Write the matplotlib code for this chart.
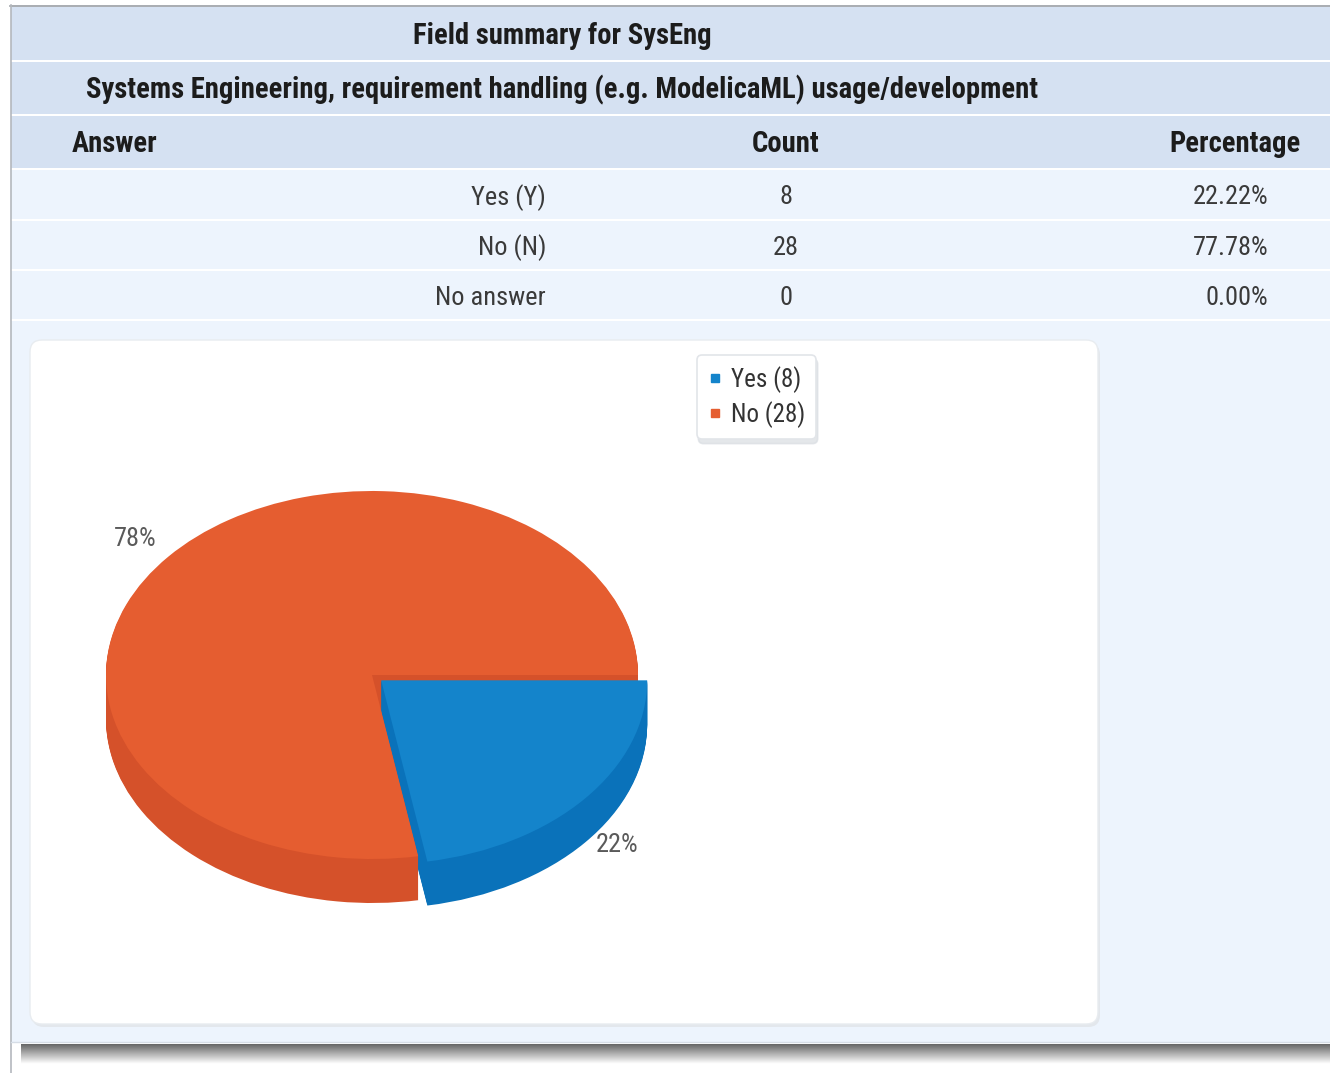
import matplotlib
matplotlib.use("Agg")
import matplotlib.pyplot as plt
from matplotlib.patches import Rectangle, FancyBboxPatch
from matplotlib.lines import Line2D
import numpy as np

W, H = 1330, 1073

# survey data
title = "Field summary for SysEng"
question = "Systems Engineering, requirement handling (e.g. ModelicaML) usage/development"
columns = ["Answer", "Count", "Percentage"]
answers = ["Yes (Y)", "No (N)", "No answer"]
counts = [8, 28, 0]
legend_names = ["Yes", "No"]
pie_colors = ["#1484CB", "#E55D30"]
side_colors = ["#0A72BA", "#D5512A"]

total = sum(counts)
percents = [100.0 * c / total for c in counts]

plt.rcParams['font.family'] = ['Roboto Condensed', 'DejaVu Sans']

fig = plt.figure(figsize=(W / 100, H / 100), dpi=100)
fig.patch.set_facecolor("white")

# page axes in pixel units, y downwards
ax = fig.add_axes([0, 0, 1, 1])
ax.set_xlim(0, W)
ax.set_ylim(H, 0)
ax.axis("off")

head_bg = "#D5E1F2"
row_bg = "#EDF4FD"
head_col = "#1c1c1c"
cell_col = "#3a3a3a"

# header bands
for y0, y1 in [(7, 60), (62, 114), (116, 168)]:
    ax.add_patch(Rectangle((11, y0), W - 11, y1 - y0, color=head_bg, lw=0))
# data rows
row_y = [(170, 219), (221, 269), (271, 319)]
for y0, y1 in row_y:
    ax.add_patch(Rectangle((11, y0), W - 11, y1 - y0, color=row_bg, lw=0))
# chart area background
ax.add_patch(Rectangle((11, 321), W - 11, 721, color=row_bg, lw=0))

# outer borders
ax.plot([10, W], [5.5, 5.5], color="#9a9ea4", lw=1.2)
ax.plot([10.5, 10.5], [5, H], color="#b4b8bd", lw=1.2)
ax.plot([11, W], [1042, 1042], color="#d6dde6", lw=1)

# bottom shadow strip
grad = np.linspace(0.40, 1.0, 40).reshape(-1, 1)
ax.imshow(grad, cmap="gray", vmin=0, vmax=1, aspect="auto",
          extent=(21, W, 1064, 1044), interpolation="bilinear")

# header text
hs = 20.6
ax.text(562, 36, title, ha="center", va="center", fontsize=hs,
        weight="bold", color=head_col)
ax.text(562, 90, question, ha="center", va="center", fontsize=hs,
        weight="bold", color=head_col)
ax.text(72, 144, columns[0], ha="left", va="center", fontsize=hs,
        weight="bold", color=head_col)
ax.text(786, 144, columns[1], ha="center", va="center", fontsize=hs,
        weight="bold", color=head_col)
ax.text(1235, 144, columns[2], ha="center", va="center", fontsize=hs,
        weight="bold", color=head_col)

for (y0, y1), name, c, p in zip(row_y, answers, counts, percents):
    yc = (y0 + y1) / 2 + 3
    ax.text(546, yc, name, ha="right", va="center", fontsize=19, color=cell_col)
    ax.text(786, yc, str(c), ha="center", va="center", fontsize=19, color=cell_col)
    ax.text(1268, yc, "%.2f%%" % p, ha="right", va="center", fontsize=19,
            color=cell_col)

# white chart panel with soft shadow
ax.add_patch(FancyBboxPatch((32, 343), 1068, 684,
                            boxstyle="round,pad=0,rounding_size=12",
                            fc="#e3e7ec", ec="none", lw=0))
ax.add_patch(FancyBboxPatch((30, 340), 1068, 684,
                            boxstyle="round,pad=0,rounding_size=12",
                            fc="white", ec="#e8ecf0", lw=1))

# pie axes: one data unit = rx pixels across, ry pixels down
cx, cy = 372, 675
rx, ry = 266, 184
depth_px = 44
pax = fig.add_axes([0, 0, 1, 1])
pax.patch.set_visible(False)

pie_vals = counts[:2]
explode = [0.045, 0]
depth = depth_px / ry
n_layers = depth_px

# side of the 3d pie, stacked from the bottom up
for k in range(n_layers, 0, -1):
    pax.pie(pie_vals, colors=side_colors, startangle=0, counterclock=False,
            explode=explode, center=(0, -depth * k / n_layers),
            wedgeprops=dict(lw=0))

# top face
wedges, _ = pax.pie(pie_vals, colors=pie_colors, startangle=0,
                    counterclock=False, explode=explode, center=(0, 0),
                    wedgeprops=dict(lw=0))

pax.set_aspect("auto")
pax.set_xlim(-cx / rx, (W - cx) / rx)
pax.set_ylim(-(H - cy) / ry, cy / ry)
pax.axis("off")

# percentage labels outside the slices
for w, p in zip(wedges, percents[:2]):
    th = np.deg2rad((w.theta1 + w.theta2) / 2)
    x0, y0 = w.center
    lx = x0 + 1.16 * np.cos(th)
    ly = y0 + 1.15 * np.sin(th) + depth * min(0, np.sin(th))
    pax.text(lx, ly, "%d%%" % round(p), ha="center", va="center",
             fontsize=19, color="#5a5a5a")

# legend
handles = [Line2D([], [], ls="none", marker="s", markersize=6,
                  color=col) for col in pie_colors]
labels = ["%s (%d)" % (n, c) for n, c in zip(legend_names, counts[:2])]
leg = fig.legend(handles, labels, loc="upper left",
                 bbox_to_anchor=(697 / W, 1 - 355 / H),
                 fontsize=18, frameon=True, fancybox=True,
                 shadow=dict(ox=1, oy=-3, color="#d9dde2", alpha=0.7),
                 handlelength=0.5, handletextpad=0.4, labelspacing=0.33,
                 borderpad=0.45, borderaxespad=0)
leg.get_frame().set_edgecolor("#e2e5e9")
leg.get_frame().set_linewidth(1.2)
leg.get_frame().set_alpha(1)
for t in leg.get_texts():
    t.set_color("#333333")

fig.savefig("out.png", dpi=100)
